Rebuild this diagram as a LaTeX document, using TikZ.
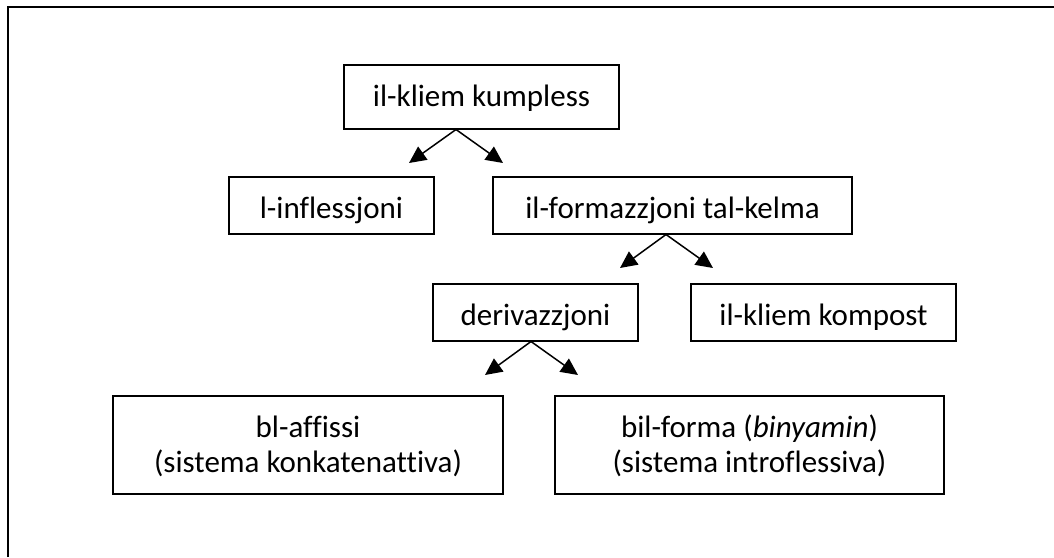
\documentclass[tikz,border=0pt]{standalone}
\usepackage{fontspec}
\setmainfont{Carlito}[Ligatures=NoCommon]
\usetikzlibrary{arrows.meta}
\begin{document}
\begin{tikzpicture}[x=1pt,y=-1pt,
  box/.style={draw,line width=1.5pt,inner sep=0pt,anchor=north,text height=41.5pt,
    font=\fontsize{31}{35}\selectfont},
  link/.style={line width=1.5pt,-{Triangle[length=17pt,width=16pt]}},
  frameline/.style={line width=2.6pt,line join=miter}]
\useasboundingbox (0,0) rectangle (1054,557);
% open frame (top and left edges)
\coordinate (fl) at (8,557);
\coordinate (fc) at (8,7);
\coordinate (fr) at (1054,7);
\draw[frameline] (fl) -- (fc) -- (fr);
% boxes
\node[box,minimum width=275pt,text depth=22.5pt] (kumpless) at (481.5,64) {il-kliem kumpless};
\node[box,minimum width=205pt,text depth=15.5pt] (infl) at (331.5,176) {l-inflessjoni};
\node[box,minimum width=359pt,text depth=15.5pt] (form) at (672.5,176) {il-formazzjoni tal-kelma};
\node[box,minimum width=205pt,text depth=15.5pt] (deriv) at (535.5,283) {derivazzjoni};
\node[box,minimum width=265pt,text depth=15.5pt] (komp) at (823.5,283) {il-kliem kompost};
\node[box,minimum width=390pt,text depth=56.5pt] (aff) at (308,395)
  {\begin{tabular}[t]{@{}c@{}}bl-affissi\\(sistema konkatenattiva)\end{tabular}};
\node[box,minimum width=389pt,text depth=56.5pt] (bin) at (749.5,395)
  {\begin{tabular}[t]{@{}c@{}}bil-forma (\textit{binyamin})\\(sistema introflessiva)\end{tabular}};
% arrow start points on box bottoms and free arrow ends
\coordinate (k0) at ([xshift=-25.5pt]kumpless.south);
\coordinate (kL) at (409,163);
\coordinate (kR) at (503,163);
\coordinate (f0) at ([xshift=-6.5pt]form.south);
\coordinate (fL) at (620,268);
\coordinate (fR) at (713,268);
\coordinate (d0) at ([xshift=-4.5pt]deriv.south);
\coordinate (dL) at (485,375);
\coordinate (dR) at (578,375);
\draw[link] (k0) -- (kL);
\draw[link] (k0) -- (kR);
\draw[link] (f0) -- (fL);
\draw[link] (f0) -- (fR);
\draw[link] (d0) -- (dL);
\draw[link] (d0) -- (dR);
\end{tikzpicture}
\end{document}
